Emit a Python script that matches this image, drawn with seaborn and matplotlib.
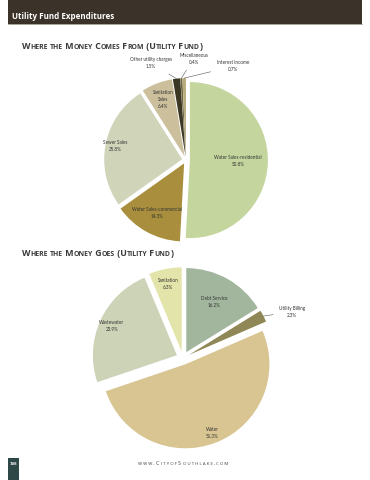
import numpy as np
import matplotlib
matplotlib.use("Agg")
import matplotlib.pyplot as plt
import seaborn as sns

# ---- data ----
src_labels = ["Water Sales-residential", "Water Sales-commercial", "Sewer Sales",
              "Sanitation\nSales", "Other utility charges", "Miscellaneous", "Interest income"]
src_values = [50.8, 14.3, 25.8, 6.4, 1.5, 0.4, 0.7]
src_colors = ["#c4d69d", "#a98f3d", "#d0d4b9", "#cbbf9c", "#3d3824", "#6e6440", "#b7aa7a"]

use_labels = ["Debt Service", "Utility Billing", "Water", "Wastewater", "Sanitation"]
use_values = [16.2, 2.3, 51.3, 23.9, 6.3]
use_colors = ["#a2b59d", "#8f8755", "#d8c592", "#cdd3b6", "#e3e4a9"]

page_title = "Utility Fund Expenditures"
src_title = "Where the Money Comes From (Utility Fund)"
use_title = "Where the Money Goes (Utility Fund)"
footer = "www.CityofSouthlake.com"
page_no = "188"

# ---- styling ----
sns.set_theme(style="white")
plt.rcParams["font.family"] = ["Lato", "DejaVu Sans"]
W, H = 370, 480
fig = plt.figure(figsize=(W / 100, H / 100), dpi=100)
fig.patch.set_facecolor("white")
bg = fig.add_axes([0, 0, 1, 1])
bg.set_xlim(0, W)
bg.set_ylim(H, 0)
bg.axis("off")

# header band
bg.add_patch(plt.Rectangle((8, 0), 354, 24, facecolor="#3b3229", edgecolor="none"))
bg.plot([8, 362], [24, 24], color="#9a958c", lw=0.6)
bg.text(12, 19, page_title, color="white", fontsize=5.8, fontweight="bold",
        family=["Open Sans", "DejaVu Sans"], va="baseline")


def small_caps(x, y, s, size, color="#3a3a3a", weight="bold", spacing=""):
    # split into runs of capitals (full size) and lowercase (reduced caps)
    runs = []
    for ch in s:
        big = not ch.islower()
        if runs and runs[-1][1] == big:
            runs[-1][0] += ch
        else:
            runs.append([ch, big])
    prev = None
    for txt, big in runs:
        txt = txt.upper()
        if spacing:
            txt = spacing.join(txt) + spacing
        fs = size if big else size * 0.78
        kw = dict(fontsize=fs, color=color, fontweight=weight,
                  family=["Open Sans", "DejaVu Sans"], va="bottom", ha="left")
        if prev is None:
            prev = bg.text(x, y, txt, **kw)
        else:
            prev = bg.annotate(txt, xy=(1, 0), xycoords=prev, **kw)
    return prev


small_caps(22, 51, src_title, 6.3)
small_caps(22, 258, use_title, 6.3)
small_caps(138, 466, footer, 4.0, color="#444444", weight="normal", spacing=" ")

# page number tab
bg.add_patch(plt.Rectangle((8, 458), 11, 22, facecolor="#2e4848", edgecolor="none"))
bg.text(13.5, 464, page_no, color="white", fontsize=3.2, ha="center", va="center",
        fontweight="bold")


def draw_pie(cx, cy, r, values, colors, labels, inside, outside, explode):
    span = 1.3
    side = 2 * span * r
    ax = fig.add_axes([(cx - side / 2) / W, (H - cy - side / 2) / H, side / W, side / H])
    wedges, _ = ax.pie(values, colors=colors, startangle=90, counterclock=False,
                       explode=[explode] * len(values), radius=1,
                       wedgeprops=dict(linewidth=0))
    ax.set_xlim(-span, span)
    ax.set_ylim(-span, span)
    ax.set_aspect("equal")
    ax.axis("off")
    for i, w in enumerate(wedges):
        mid = np.deg2rad((w.theta1 + w.theta2) / 2)
        ox, oy = w.center
        txt = f"{labels[i]}\n{values[i]:.1f}%"
        if i in inside:
            rr = inside[i]
            ax.text(ox + rr * np.cos(mid), oy + rr * np.sin(mid), txt, fontsize=3.3,
                    ha="center", va="center", color="#333333", linespacing=1.5)
        else:
            tx, ty = outside[i]
            ax.annotate(txt, xy=(ox + np.cos(mid), oy + np.sin(mid)), xytext=(tx, ty),
                        fontsize=3.3, ha="center", va="center", color="#333333",
                        linespacing=1.5, annotation_clip=False,
                        arrowprops=dict(arrowstyle="-", lw=0.4, color="#555555",
                                        shrinkA=2, shrinkB=0))
    return ax


draw_pie(186, 160, 78, src_values, src_colors, src_labels,
         inside={0: 0.62, 1: 0.72, 2: 0.88, 3: 0.78},
         outside={4: (-0.45, 1.24), 5: (0.1, 1.3), 6: (0.6, 1.2)},
         explode=0.05)

draw_pie(183, 358, 84, use_values, use_colors, use_labels,
         inside={0: 0.68, 2: 0.88, 3: 0.85, 4: 0.82},
         outside={1: (1.3, 0.55)},
         explode=0.08)

fig.savefig("out.png", dpi=100)
